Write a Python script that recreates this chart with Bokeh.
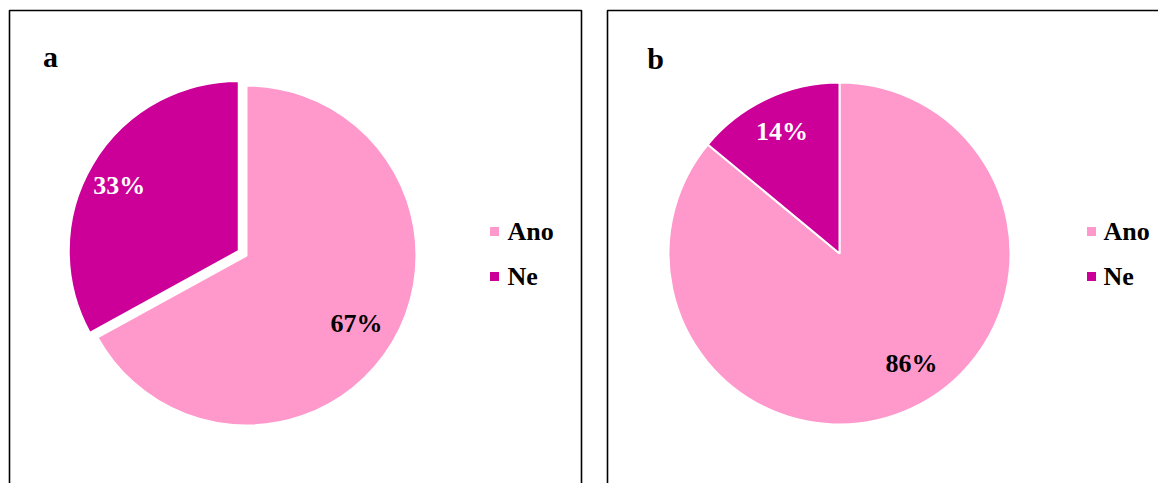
import math
from bokeh.plotting import figure
from bokeh.models import Range1d, ColumnDataSource
from bokeh.core.properties import value
from bokeh.embed import file_html
from bokeh.resources import INLINE

# ---- data ----
panel_labels = ["a", "b"]
categories = ["Ano", "Ne"]
values_a = [67, 33]
values_b = [86, 14]
colors = ["#FF99CC", "#CC0099"]
label_colors = ["black", "white"]

# ---- layout (picture px -> data px) ----
W, H = 1158, 483
def X(px):
    return px
def Y(py):
    return H - py

FONT = value("Liberation Serif")

p = figure(width=W, height=H, output_backend="svg", toolbar_location=None,
           x_range=Range1d(0, W), y_range=Range1d(0, H), min_border=0)
p.axis.visible = False
p.grid.visible = False
p.outline_line_color = None
p.background_fill_color = "white"
p.border_fill_color = "white"

# panel frames
p.quad(left=[X(9), X(607)], right=[X(581), X(1190)], top=[Y(10), Y(10)],
       bottom=[Y(520), Y(520)], fill_color=None, line_color="black", line_width=1.6)

panels = [
    dict(values=values_a, cx=X(246), cy=Y(255), r=170, explode=[0, 9],
         label_turn=[-1, 2], label_rf=[0.76, 0.80],
         letter_pos=(X(50), Y(56)), legend_x=X(494), text_x=X(507)),
    dict(values=values_b, cx=X(839), cy=Y(253), r=171, explode=[0, 0],
         label_turn=[8, 0], label_rf=[0.77, 0.79],
         letter_pos=(X(655), Y(58)), legend_x=X(1091), text_x=X(1103)),
]
legend_y = [Y(231), Y(276)]

for letter, pn in zip(panel_labels, panels):
    vals = pn["values"]
    total = sum(vals)
    starts, ends, xs, ys, lx, ly, txt = [], [], [], [], [], [], []
    a_ano = 360 * vals[0] / total
    a_ne = 360 * vals[1] / total
    spans = [(90 - a_ano, 90), (90, 90 + a_ne)]
    for i, (s, e) in enumerate(spans):
        mid = math.radians((s + e) / 2)
        d = pn["explode"][i]
        cx = pn["cx"] + d * math.cos(mid)
        cy = pn["cy"] + d * math.sin(mid)
        starts.append(math.radians(s))
        ends.append(math.radians(e))
        xs.append(cx)
        ys.append(cy)
        la = mid + math.radians(pn["label_turn"][i])
        lr = pn["r"] * pn["label_rf"][i]
        lx.append(cx + lr * math.cos(la))
        ly.append(cy + lr * math.sin(la))
        txt.append(f"{round(100 * vals[i] / total)}%")
    src = ColumnDataSource(dict(x=xs, y=ys, start=starts, end=ends, color=colors,
                                lx=lx, ly=ly, txt=txt, tc=label_colors))
    p.wedge(x="x", y="y", radius=pn["r"], start_angle="start", end_angle="end",
            fill_color="color", line_color="white", line_width=2, source=src)
    p.text(x="lx", y="ly", text="txt", text_color="tc", text_font=FONT,
           text_font_style="bold", text_font_size="26px", text_align="center",
           text_baseline="middle", source=src)
    # panel letter
    p.text(x=[pn["letter_pos"][0]], y=[pn["letter_pos"][1]], text=[letter],
           text_font=FONT, text_font_style="bold", text_font_size="30px",
           text_align="center", text_baseline="middle", text_color="black")
    # legend
    p.scatter(x=[pn["legend_x"]] * 2, y=legend_y, marker="square", size=9,
              fill_color=colors, line_color=None)
    p.text(x=[pn["text_x"]] * 2, y=legend_y, text=categories, text_font=FONT,
           text_font_style="bold", text_font_size="26px", text_align="left",
           text_baseline="middle", text_color="black")

open("out.html", "w").write(file_html(p, INLINE))
